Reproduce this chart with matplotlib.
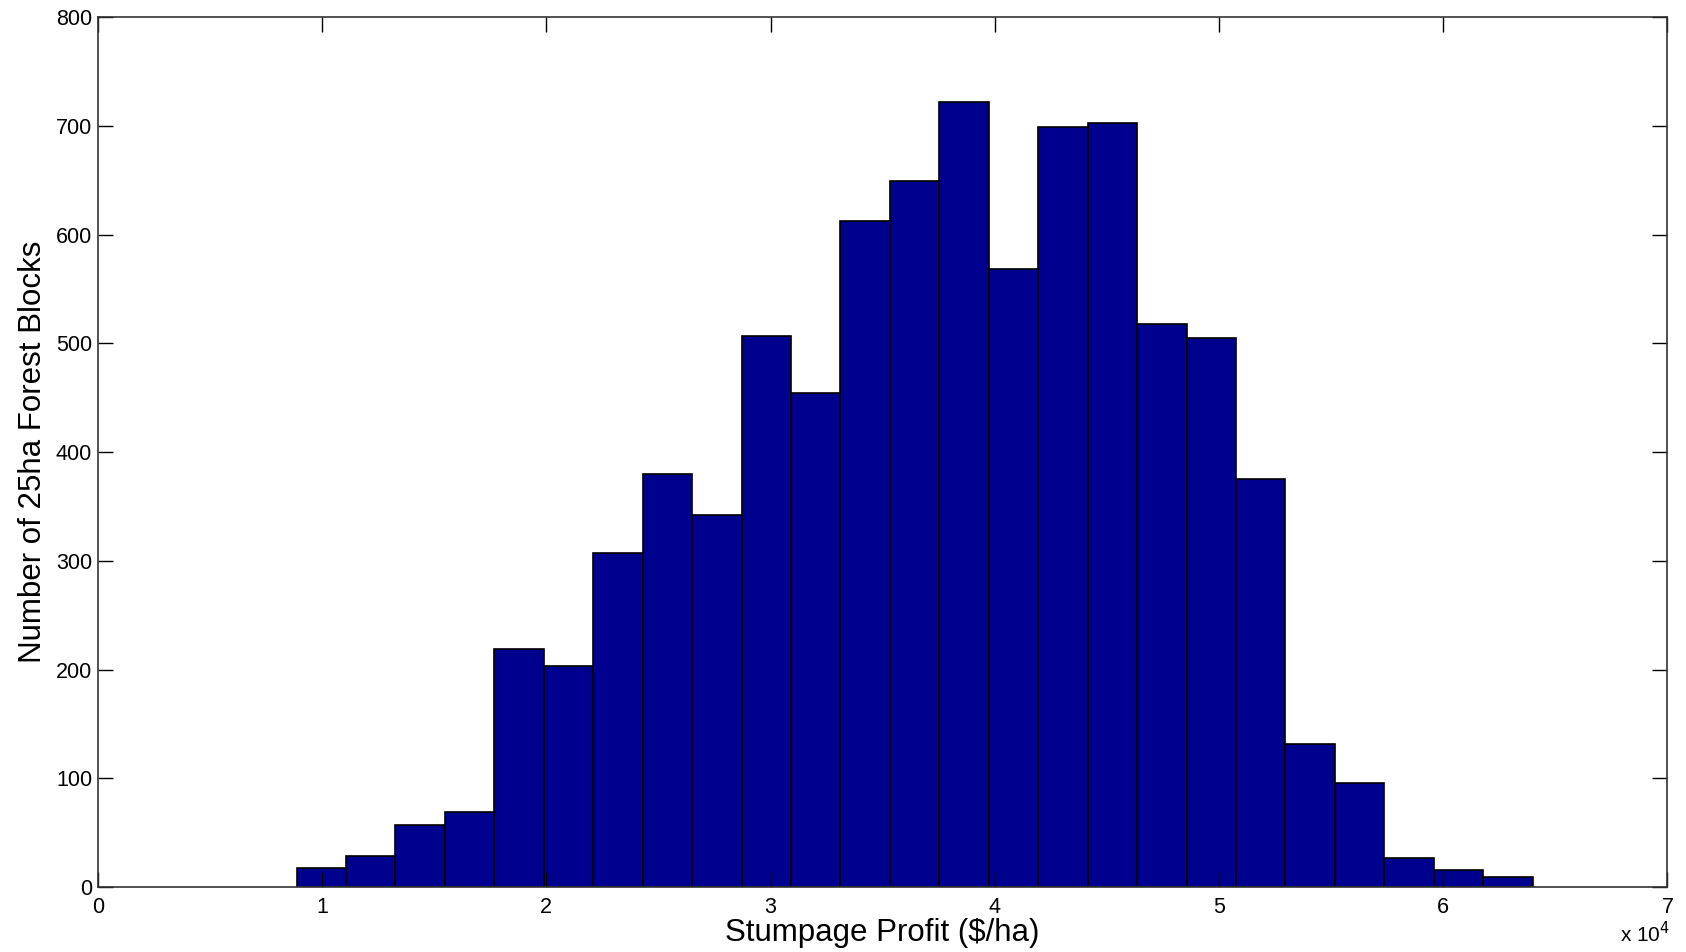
import numpy as np
import matplotlib.pyplot as plt
from matplotlib.ticker import FuncFormatter

plt.rcParams['font.family'] = ['Liberation Sans', 'DejaVu Sans']

# Histogram data (bin edges in $/ha, counts per bin)
bin_start = 8865
bin_width = 2205
counts = [18, 29, 57, 69, 219, 203, 307, 380, 342, 507, 454, 613, 649,
          722, 568, 699, 703, 518, 505, 375, 132, 96, 27, 16, 9]
edges = bin_start + bin_width * np.arange(len(counts) + 1)

x_ticks = [0, 1e4, 2e4, 3e4, 4e4, 5e4, 6e4, 7e4]
y_ticks = [0, 100, 200, 300, 400, 500, 600, 700, 800]

fig = plt.figure(figsize=(16.86, 9.52), dpi=100)
ax = fig.add_axes([0.058, 0.068, 0.931, 0.914])

ax.bar(edges[:-1], counts, width=np.diff(edges), align='edge',
       color='#00008F', edgecolor='black', linewidth=1.2)

ax.set_xlim(0, 7e4)
ax.set_ylim(0, 800)
ax.set_xticks(x_ticks)
ax.set_yticks(y_ticks)
ax.xaxis.set_major_formatter(FuncFormatter(lambda v, p: '%g' % (v / 1e4)))

ax.tick_params(direction='in', length=11, width=1, top=True, right=True,
               labelsize=15.5, colors='black')
ax.tick_params(axis='x', pad=7)
ax.tick_params(axis='y', pad=4)
for s in ax.spines.values():
    s.set_linewidth(1.2)
    s.set_color('#333333')

ax.set_xlabel('Stumpage Profit ($/ha)', fontsize=22.5, labelpad=0)
ax.set_ylabel('Number of 25ha Forest Blocks', fontsize=22.5, labelpad=6)
fig.text(0.9905, 0.006, r'x 10$^4$', ha='right', va='bottom', fontsize=15)

plt.savefig('out.png', dpi=100)
